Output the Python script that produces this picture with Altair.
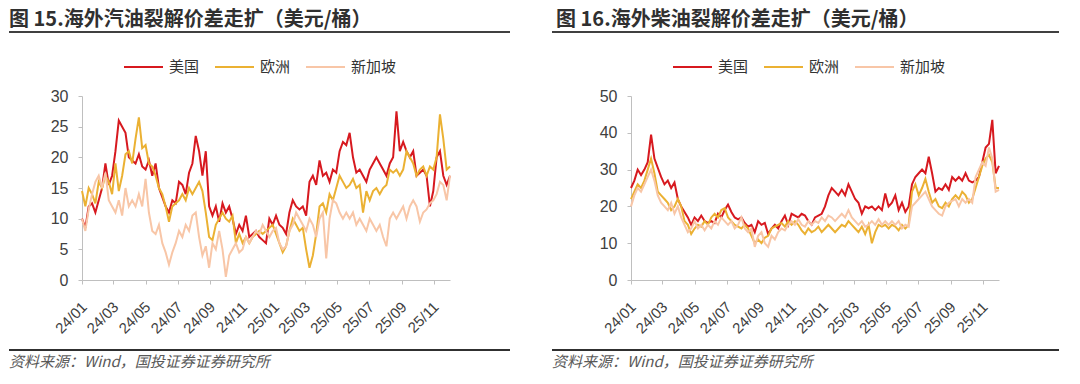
import altair as alt
import pandas as pd

N = 111
dates = pd.date_range("2024-01-01", "2025-12-02", periods=N)

names = ["美国", "欧洲", "新加坡"]
colors = ["#D7191F", "#EBB133", "#F8C6A7"]

gas_us = [10, 8.5, 12, 12.5, 11, 13, 15, 19, 15.5, 17,
          21, 26, 25, 24, 20, 19.5, 19, 20.5, 18.5, 18,
          19.5, 17, 19, 15, 13.5, 12, 11, 13, 12.5, 16,
          15.5, 14, 17.5, 19, 23.5, 21, 17, 21, 12, 10.5,
          12, 9.5, 12.5, 11, 12, 10, 7.5, 9, 8, 10.5,
          7, 7.5, 8, 7, 6.5, 6, 10, 9, 10.5, 9,
          8.5, 7.5, 11, 13, 12, 11.5, 12, 10.5, 16, 17,
          15.5, 19.5, 17, 17.5, 16, 18, 17.5, 21, 22.5, 22,
          24, 20, 17.5, 18, 17, 16, 18, 19, 20, 19,
          18, 17, 19, 20, 27.5, 21, 22.5, 21, 20, 21,
          17, 17.5, 18, 17, 12, 14.5, 20, 21, 17, 15.5, 17]
gas_eu = [14.5, 12, 15, 14, 12.5, 16, 15, 17, 16, 14,
          19, 14.5, 17, 20.5, 21, 19, 23, 26.5, 21.5, 22,
          19, 18.5, 17, 15, 14, 12, 9.5, 12, 12.5, 13,
          14, 13, 15, 14, 15, 16, 14.5, 11, 7, 6.5,
          9, 10, 11, 10, 9.5, 10.5, 6, 7.5, 6, 7,
          6, 7, 7.5, 8, 7.5, 8, 8.5, 9, 7.5, 6,
          4.5, 5.5, 8, 10, 9, 8, 8.5, 5, 2, 4,
          7.5, 12, 12.5, 11, 14, 13, 15, 17, 16, 15,
          15.5, 16.5, 15, 15.5, 11, 14.5, 13, 14.5, 15, 14,
          15, 15.5, 18, 17.5, 18, 17, 18, 21, 20, 19,
          17, 18, 18.5, 17, 18.5, 18, 20, 27, 23, 18, 18.5]
gas_sg = [10, 8, 11.5, 14, 16, 17, 15, 17.5, 13, 12,
          11, 13, 10.5, 15, 12, 13, 12, 14, 12, 16.5,
          11, 8, 7.5, 9, 6, 4.5, 2.5, 4.5, 6, 8,
          7, 9, 8, 10.5, 11, 7, 4, 5.5, 2, 6,
          5, 8, 5, 0.5, 4, 5, 6, 4.5, 5, 7,
          6, 7, 8, 7.5, 9, 8, 7, 8, 8.5, 6,
          5, 5.5, 8, 9, 11, 10, 9, 8, 10, 9,
          7, 10, 11, 3.5, 10, 13, 12.5, 11, 10, 11,
          10, 11, 9, 10, 9, 8, 10, 9, 8, 9,
          7, 5.5, 10, 11, 10, 11, 12, 10, 12, 13,
          12, 9.5, 11, 11.5, 12.5, 13, 14, 16, 15.5, 13, 17]

dsl_us = [25, 27, 30, 28.5, 30, 32, 39.5, 33, 30.5, 28,
          26, 27, 25, 26.5, 22, 20, 18.5, 17, 15, 17,
          16, 17.5, 16, 15.5, 16, 15.5, 18, 17, 19, 20.5,
          18.5, 17, 16.5, 17, 15.5, 14.5, 15, 13, 16, 15,
          15.5, 12.5, 14, 15, 14, 16, 17.5, 15, 18, 17.5,
          17, 18, 17.5, 16, 15, 17, 17.5, 18, 20, 23,
          25, 24, 23, 24.5, 23, 26, 24, 22, 21, 18,
          20, 19.5, 20, 19, 20, 19, 23.5, 20, 21, 23,
          19, 21, 18.5, 20, 26, 28, 29, 30, 29, 33.5,
          29, 24, 25, 24.5, 26, 24.5, 28, 27, 28, 27,
          29, 27, 26.5, 27, 28, 32, 36, 37, 43.5, 29, 31]
dsl_eu = [22, 24, 26, 25, 27, 30, 33, 29, 24, 23,
          22, 21, 19, 20, 22, 20, 16, 15, 12.5, 14,
          15, 14.5, 16, 15, 17, 18, 17, 19, 19.5, 17,
          16, 15, 14.5, 14, 15, 14, 12, 10, 11, 10,
          11.5, 12, 14, 14.5, 15, 15.5, 14.5, 16, 15, 16,
          15, 13.5, 12.5, 14, 13, 13.5, 14.5, 13, 14, 15,
          14, 13, 14, 15, 14.5, 16, 15, 14, 13, 14.5,
          12.5, 15, 10, 13, 15, 14.5, 15, 14, 15, 14.5,
          13.5, 15, 14, 15, 24, 26, 23, 25, 27.5, 24,
          21, 22, 20, 19.5, 21, 20, 22, 23, 22, 24,
          23, 21, 22, 25, 28, 31, 33, 34, 32, 25, 25]
dsl_sg = [20, 23, 25, 24, 26, 28, 30, 27, 23, 21,
          20, 19, 21, 18, 20, 17, 15, 13, 14, 16,
          14, 15, 13.5, 15, 14, 16, 15, 17, 16, 15,
          16, 14, 15, 17, 14, 13, 14, 9, 12, 13,
          10, 9, 12, 11, 13, 14, 13.5, 15, 16, 15,
          16.5, 15, 14.5, 16, 15, 16, 15.5, 17, 16, 17.5,
          17, 16, 17, 18, 17, 19, 17, 16, 15, 16,
          14.5, 15, 16, 15, 16.5, 15, 16, 15, 16, 15,
          16, 14, 15, 14.5, 20, 21, 22, 23, 24, 22,
          20, 19, 18, 17.5, 20, 21, 21.5, 22, 20, 22,
          21, 22, 21, 28, 30, 32, 31, 36, 33, 24, 24.5]

tick_months = [(2024, m) for m in (1, 3, 5, 7, 9, 11)] + [(2025, m) for m in (1, 3, 5, 7, 9, 11)]
tick_vals = [alt.DateTime(year=y, month=m, date=1) for y, m in tick_months]

W, H = 368, 184
AXIS_FONT = "Liberation Sans"
CJK = "Noto Sans CJK SC"
one = pd.DataFrame({"a": [0]})


def panel(title, series, ymax, ystep, lx, tx):
    x_enc = alt.X(
        "date:T",
        scale=alt.Scale(domain=[alt.DateTime(year=2024, month=1, date=1),
                                alt.DateTime(year=2025, month=12, date=2)]),
        axis=alt.Axis(values=tick_vals, format="%y/%m", labelAngle=315, title=None,
                      labelFontSize=15, labelOverlap=False, labelFlush=False,
                      labelPadding=15, labelOffset=-3),
    )
    y_enc = alt.Y(
        "v:Q",
        scale=alt.Scale(domain=[0, ymax], nice=False),
        axis=alt.Axis(values=list(range(0, ymax + 1, ystep)), title=None,
                      labelFontSize=16, labelPadding=10),
    )
    layers = []
    for vals, col in zip(series, colors):
        df = pd.DataFrame({"date": dates, "v": vals})
        layers.append(alt.Chart(df).mark_line(color=col, strokeWidth=2).encode(x=x_enc, y=y_enc))

    # legend
    leg_x = [42, 133, 224]
    for name, col, lxp in zip(names, colors, leg_x):
        layers.append(alt.Chart(one).mark_rule(color=col, strokeWidth=2).encode(
            x=alt.value(lxp), x2=alt.value(lxp + 39), y=alt.value(-29)))
        layers.append(alt.Chart(one).mark_text(align="left", baseline="middle", font=CJK,
                                               fontSize=15, color="#333333").encode(
            x=alt.value(lxp + 45), y=alt.value(-29), text=alt.value(name)))

    # title and rules
    layers.append(alt.Chart(one).mark_text(align="left", baseline="middle", font=CJK,
                                           fontSize=20, fontWeight="bold", color="#303030").encode(
        x=alt.value(tx), y=alt.value(-76), text=alt.value(title)))
    layers.append(alt.Chart(one).mark_rule(color="#404040", strokeWidth=2).encode(
        x=alt.value(lx), x2=alt.value(428), y=alt.value(-64)))
    layers.append(alt.Chart(one).mark_rule(color="#303030", strokeWidth=2).encode(
        x=alt.value(lx), x2=alt.value(428), y=alt.value(254)))
    layers.append(alt.Chart(one).mark_text(align="left", baseline="middle", font=CJK,
                                           fontSize=15, fontStyle="italic", color="#595959").encode(
        x=alt.value(lx), y=alt.value(266), text=alt.value("资料来源：Wind，国投证券证券研究所")))

    return alt.layer(*layers).properties(width=W, height=H)


left = panel("图 15.海外汽油裂解价差走扩（美元/桶）", [gas_us, gas_eu, gas_sg], 30, 5, -73, -73)
right = panel("图 16.海外柴油裂解价差走扩（美元/桶）", [dsl_us, dsl_eu, dsl_sg], 50, 10, -79, -75)

chart = alt.hconcat(left, right, spacing=40).properties(
    padding={"left": 0, "top": 2, "right": 0, "bottom": 0}, background="white"
).configure_view(stroke=None).configure_axis(
    grid=False, domainColor="#BFBFBF", tickColor="#BFBFBF", tickSize=4,
    labelColor="#404040", labelFont=AXIS_FONT, domainWidth=1, tickWidth=1
)

chart.save("out.html", embed_options={"renderer": "svg", "actions": False})
